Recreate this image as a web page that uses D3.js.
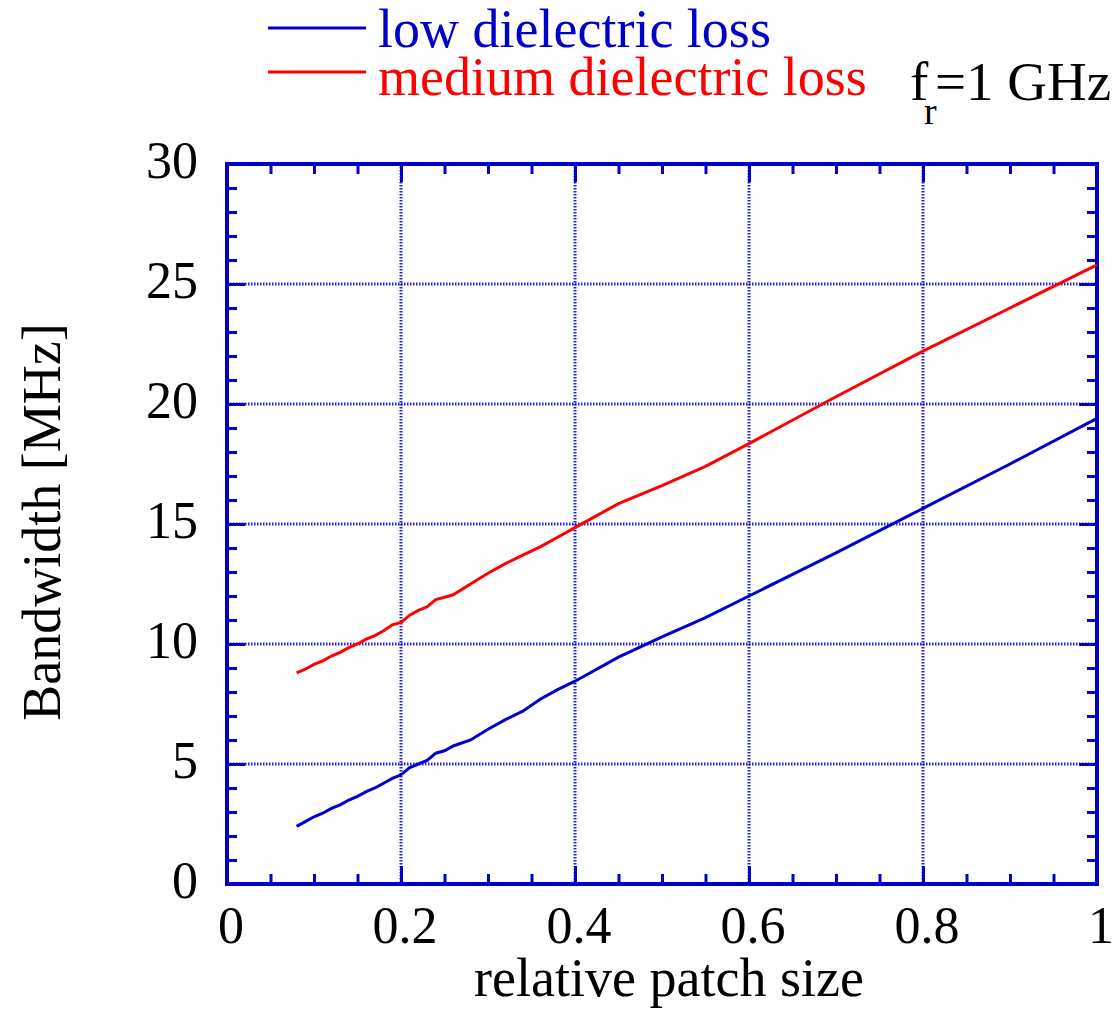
<!DOCTYPE html>
<html><head><meta charset="utf-8">
<script src="https://cdn.jsdelivr.net/npm/d3@7"></script>
<style>body{margin:0;background:#fff}svg{display:block}</style>
</head><body><svg id="c" width="1117" height="1011"></svg>
<script>
const xTicks = [0, 0.2, 0.4, 0.6, 0.8, 1];
const xTickLabels = ["0", "0.2", "0.4", "0.6", "0.8", "1"];
const yTicks = [0, 5, 10, 15, 20, 25, 30];
const yTickLabels = ["0", "5", "10", "15", "20", "25", "30"];
const seriesNames = ["low dielectric loss", "medium dielectric loss"];
const xLow = [0.08,0.09,0.10,0.11,0.12,0.13,0.14,0.15,0.16,0.17,0.18,0.19,0.20,0.21,0.22,0.23,0.24,0.25,0.26,0.28,0.30,0.32,0.34,0.36,0.38,0.40,0.45,0.50,0.55,0.60,0.70,0.80,0.90,1.00];
const yLow = [2.4,2.6,2.8,2.95,3.15,3.3,3.5,3.65,3.85,4.0,4.2,4.4,4.55,4.85,5.0,5.15,5.45,5.55,5.75,6.0,6.45,6.85,7.2,7.7,8.1,8.45,9.45,10.3,11.1,12.0,13.8,15.65,17.5,19.4];
const xMed = [0.08,0.09,0.10,0.11,0.12,0.13,0.14,0.15,0.16,0.17,0.18,0.19,0.20,0.21,0.22,0.23,0.24,0.25,0.26,0.28,0.30,0.32,0.34,0.36,0.38,0.40,0.45,0.50,0.55,0.60,0.70,0.80,0.90,1.00];
const yMed = [8.8,8.95,9.15,9.3,9.5,9.65,9.85,10.0,10.2,10.35,10.55,10.8,10.9,11.2,11.4,11.55,11.85,11.95,12.05,12.5,12.95,13.35,13.7,14.05,14.45,14.85,15.85,16.6,17.4,18.35,20.3,22.2,24.0,25.8];

const svg = d3.select("#c");
const L = 227, R = 1097, T = 164, B = 884;
const x = d3.scaleLinear().domain([0,1]).range([L,R]);
const y = d3.scaleLinear().domain([0,30]).range([B,T]);
const blue = "#0000cc", red = "#ff0000";
const serif = "'Liberation Serif','Times New Roman',serif";

// grid
const g = svg.append("g");
g.selectAll(".gx").data(xTicks.slice(1,-1)).join("line")
  .attr("x1", d=>x(d)).attr("x2", d=>x(d)).attr("y1", T).attr("y2", B)
  .attr("stroke", blue).attr("stroke-width", 3).attr("stroke-dasharray", "1.5,1.5").attr("opacity",0.85);
g.selectAll(".gy").data(yTicks.slice(1,-1)).join("line")
  .attr("y1", d=>y(d)).attr("y2", d=>y(d)).attr("x1", L).attr("x2", R)
  .attr("stroke", blue).attr("stroke-width", 3).attr("stroke-dasharray", "1.5,1.5").attr("opacity",0.85);

// ticks via axes (inward)
const xMinor = d3.range(0, 1.0001, 0.05).filter(v => Math.abs(v*5 - Math.round(v*5)) > 1e-6);
const yMinor = d3.range(0, 30.001, 1).filter(v => v % 5 !== 0);
function styleAxis(sel){ sel.select(".domain").remove(); sel.selectAll("line").attr("stroke", blue).attr("stroke-width", 3); sel.selectAll("text").remove(); }
svg.append("g").attr("transform",`translate(0,${B})`).call(d3.axisBottom(x).tickValues(xTicks).tickSizeInner(-18).tickSizeOuter(0)).call(styleAxis);
svg.append("g").attr("transform",`translate(0,${B})`).call(d3.axisBottom(x).tickValues(xMinor).tickSizeInner(-10).tickSizeOuter(0)).call(styleAxis);
svg.append("g").attr("transform",`translate(0,${T})`).call(d3.axisTop(x).tickValues(xTicks).tickSizeInner(-18).tickSizeOuter(0)).call(styleAxis);
svg.append("g").attr("transform",`translate(0,${T})`).call(d3.axisTop(x).tickValues(xMinor).tickSizeInner(-10).tickSizeOuter(0)).call(styleAxis);
svg.append("g").attr("transform",`translate(${L},0)`).call(d3.axisLeft(y).tickValues(yTicks).tickSizeInner(-18).tickSizeOuter(0)).call(styleAxis);
svg.append("g").attr("transform",`translate(${L},0)`).call(d3.axisLeft(y).tickValues(yMinor).tickSizeInner(-10).tickSizeOuter(0)).call(styleAxis);
svg.append("g").attr("transform",`translate(${R},0)`).call(d3.axisRight(y).tickValues(yTicks).tickSizeInner(-18).tickSizeOuter(0)).call(styleAxis);
svg.append("g").attr("transform",`translate(${R},0)`).call(d3.axisRight(y).tickValues(yMinor).tickSizeInner(-10).tickSizeOuter(0)).call(styleAxis);

// frame
svg.append("rect").attr("x", L).attr("y", T).attr("width", R-L).attr("height", B-T)
  .attr("fill","none").attr("stroke", blue).attr("stroke-width", 4);

// lines
const line = d3.line().x(d=>x(d[0])).y(d=>y(d[1])).curve(d3.curveLinear);
svg.append("path").datum(xLow.map((v,i)=>[v,yLow[i]])).attr("d", line).attr("fill","none").attr("stroke", blue).attr("stroke-width", 3);
svg.append("path").datum(xMed.map((v,i)=>[v,yMed[i]])).attr("d", line).attr("fill","none").attr("stroke", red).attr("stroke-width", 3);

// tick labels
svg.selectAll(".xl").data(xTicks).join("text").attr("x", d=>x(d)+4).attr("y", 943)
  .attr("text-anchor","middle").attr("font-family", serif).attr("font-size", 52).attr("fill","#000")
  .text((d,i)=>xTickLabels[i]);
svg.selectAll(".yl").data(yTicks).join("text").attr("x", 198).attr("y", d=>y(d)+14)
  .attr("text-anchor","end").attr("font-family", serif).attr("font-size", 52).attr("fill","#000")
  .text((d,i)=>yTickLabels[i]);

// axis titles
svg.append("text").attr("x", 669).attr("y", 996).attr("text-anchor","middle")
  .attr("font-family", serif).attr("font-size", 54).text("relative patch size");
svg.append("text").attr("transform","translate(60,522) rotate(-90)").attr("text-anchor","middle")
  .attr("font-family", serif).attr("font-size", 54).text("Bandwidth [MHz]");

// legend
const colors = [blue, red];
seriesNames.forEach((n,i)=>{
  const ly = 28 + i*44;
  svg.append("line").attr("x1",268).attr("x2",366).attr("y1",ly).attr("y2",ly).attr("stroke",colors[i]).attr("stroke-width",3);
  svg.append("text").attr("x",378).attr("y",47 + i*48).attr("font-family",serif).attr("font-size",54).attr("fill",colors[i]).text(n);
});
const fr = svg.append("text").attr("x",910).attr("y",100).attr("font-family",serif).attr("font-size",55).attr("fill","#000");
fr.append("tspan").text("f");
fr.append("tspan").attr("x",924).attr("y",124).attr("font-size",38).text("r");
fr.append("tspan").attr("x",935).attr("y",100).text("=1 GHz");
</script></body></html>
